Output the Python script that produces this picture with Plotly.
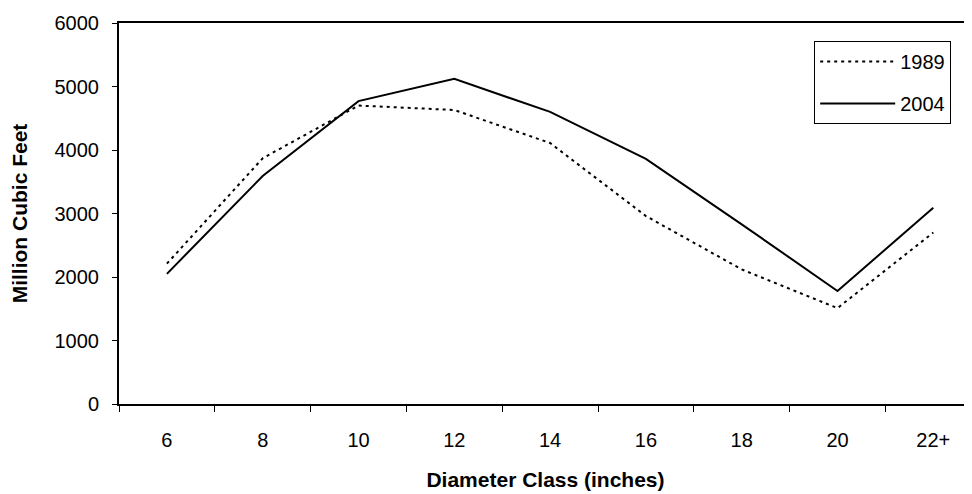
import plotly.graph_objects as go

diameter_class = ["6", "8", "10", "12", "14", "16", "18", "20", "22+"]
volume_1989 = [2210, 3870, 4700, 4630, 4110, 2960, 2120, 1510, 2700]
volume_2004 = [2050, 3590, 4770, 5120, 4600, 3860, 2830, 1780, 3090]

FONT = "Liberation Sans, Arial, sans-serif"

fig = go.Figure()
fig.add_trace(
    go.Scatter(
        x=diameter_class,
        y=volume_1989,
        name="1989",
        mode="lines",
        legendgroup="a",
        line={"color": "black", "width": 2, "dash": "3px,4px"},
    )
)
fig.add_trace(
    go.Scatter(
        x=diameter_class,
        y=volume_2004,
        name="2004",
        mode="lines",
        legendgroup="b",
        line={"color": "black", "width": 2},
    )
)

# the page body keeps its 8px margin, so the figure is a bit smaller than the window
fig.update_layout(
    width=964,
    height=486,
    margin={"l": 111, "r": 0, "t": 15, "b": 90},
    paper_bgcolor="white",
    plot_bgcolor="white",
    font={"family": FONT, "size": 20, "color": "black"},
    legend={
        "x": 0.815,
        "y": 0.953,
        "xanchor": "left",
        "yanchor": "top",
        "bordercolor": "black",
        "borderwidth": 1,
        "bgcolor": "white",
        "font": {"size": 20},
        "itemwidth": 75,
        "tracegroupgap": 13,
        "traceorder": "grouped",
    },
)
fig.update_xaxes(
    type="category",
    range=[-0.5, 8.404],
    showline=True,
    linecolor="black",
    linewidth=2,
    mirror=True,
    showgrid=False,
    ticks="outside",
    tickson="boundaries",
    ticklen=6,
    tickcolor="black",
    ticklabelstandoff=17,
    title={"text": "<b>Diameter Class (inches)</b>", "font": {"size": 21}, "standoff": 22},
)
fig.update_yaxes(
    range=[0, 6000],
    dtick=1000,
    showline=True,
    linecolor="black",
    linewidth=2,
    showgrid=False,
    zeroline=False,
    ticks="outside",
    ticklen=5,
    tickcolor="black",
    ticklabelstandoff=9,
    title={"text": "<b>Million Cubic Feet</b>", "font": {"size": 21}, "standoff": 22},
)

fig.write_html("out.html")
